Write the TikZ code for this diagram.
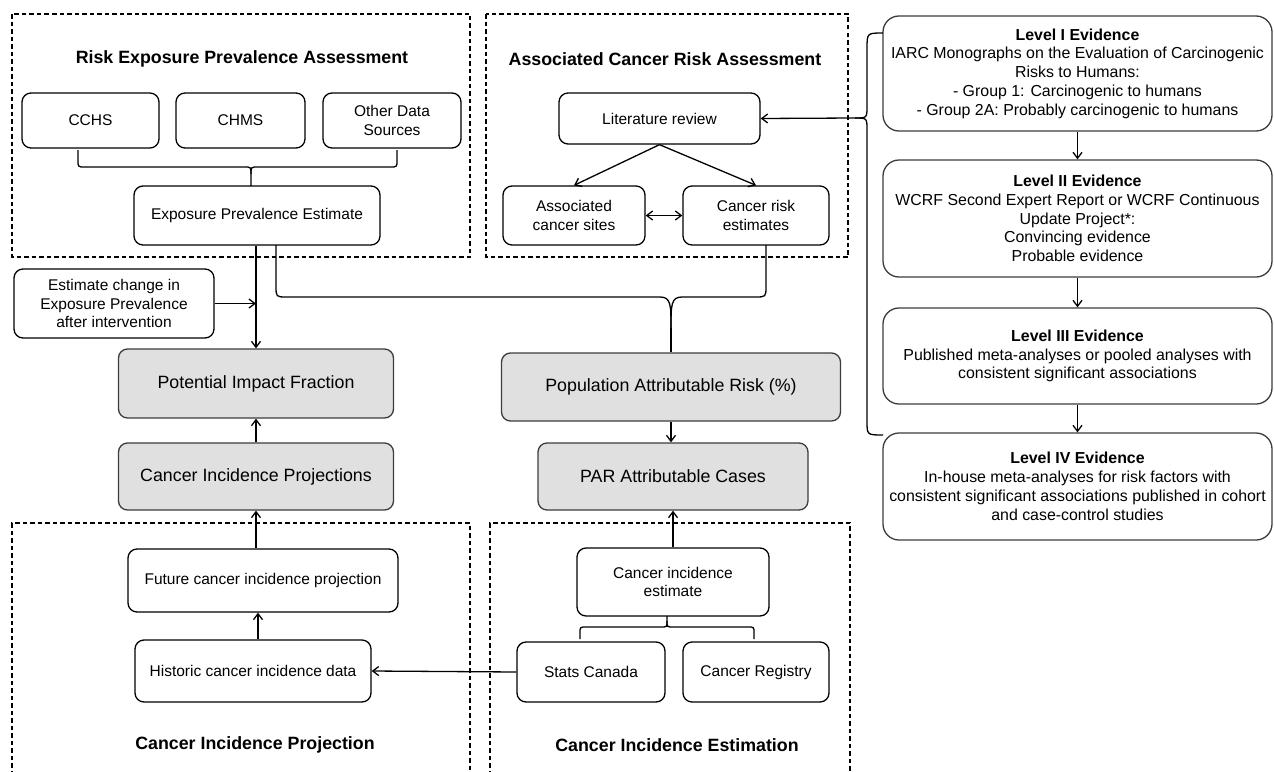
\documentclass[tikz,border=0pt]{standalone}
\usepackage{fontspec}
\setmainfont{Liberation Sans}
\usetikzlibrary{arrows.meta,calc}
\definecolor{boxgray}{RGB}{224,224,224}
\definecolor{linegray}{RGB}{60,60,60}
\tikzset{
  wbox/.style={draw=black, line width=1.3pt, rounded corners=9pt, fill=white, align=center, inner sep=2pt,
    font=\fontsize{15.5}{18.5}\selectfont},
  gbox/.style={wbox, fill=boxgray, draw=linegray, font=\fontsize{17.8}{21}\selectfont},
  lbox/.style={wbox, draw=linegray, rounded corners=16pt, font=\fontsize{15.9}{18.8}\selectfont},
  dbox/.style={draw=black, line width=1.3pt, dash pattern=on 4.5pt off 3pt},
  ttl/.style={font=\bfseries\fontsize{17.8}{21}\selectfont},
  conn/.style={line width=1.3pt},
  arr/.style={conn, -{Straight Barb[length=6pt,width=9pt]}},
  darr/.style={conn, {Straight Barb[length=6pt,width=9pt]}-{Straight Barb[length=6pt,width=9pt]}},
}
\begin{document}
\begin{tikzpicture}[x=1pt,y=-1pt]
\useasboundingbox (0,0) rectangle (1274,771);

% dashed panels
\draw[dbox] (12,14) rectangle (470,257);
\draw[dbox] (486,14) rectangle (848,257);
\draw[dbox] (12,775) -- (12,523) -- (470,523) -- (470,775);
\draw[dbox] (490,775) -- (490,523) -- (850,523) -- (850,775);

\node[ttl] (t1) at (242,59) {Risk Exposure Prevalence Assessment};
\node[ttl] (t2) at (665,59) {Associated Cancer Risk Assessment};
\node[ttl] (t3) at (255,745) {Cancer Incidence Projection};
\node[ttl] (t4) at (677,745) {Cancer Incidence Estimation};

% top-left panel
\node[wbox, minimum width=137, minimum height=55] (cchs) at (90.5,120.5) {CCHS};
\node[wbox, minimum width=129, minimum height=55] (chms) at (240.5,120.5) {CHMS};
\node[wbox, minimum width=138, minimum height=55] (other) at (392,120.5) {Other Data\\Sources};
\node[wbox, minimum width=246, minimum height=59] (epe) at (257,215.5) {Exposure Prevalence Estimate};

\draw[conn] (78,150) -- (78,160) .. controls (78,167) .. (85,167) -- (244,167)
  .. controls (251,167) .. (251,174) -- (251,186);
\draw[conn] (251,174) .. controls (251,167) .. (258,167) -- (390,167)
  .. controls (397,167) .. (397,160) -- (397,150);

% top-middle panel
\node[wbox, minimum width=201, minimum height=51] (lit) at (659.5,118.5) {Literature review};
\node[wbox, minimum width=142, minimum height=59] (assoc) at (574,215.5) {Associated\\cancer sites};
\node[wbox, minimum width=146, minimum height=59] (risk) at (756,215.5) {Cancer risk\\estimates};
\draw[arr] (lit.south) -- (assoc.north);
\draw[arr] (lit.south) -- (risk.north);
\draw[darr] (assoc.east) -- (risk.west);

% evidence levels
\node[lbox, minimum width=389, minimum height=115] (l1) at (1077.5,73.5)
  {\textbf{Level I Evidence}\\IARC Monographs on the Evaluation of Carcinogenic\\Risks to Humans:\\- Group 1: Carcinogenic to humans\\- Group 2A: Probably carcinogenic to humans};
\node[lbox, minimum width=389, minimum height=117] (l2) at (1077.5,218.5)
  {\textbf{Level II Evidence}\\WCRF Second Expert Report or WCRF Continuous\\Update Project*:\\Convincing evidence\\Probable evidence};
\node[lbox, minimum width=389, minimum height=96] (l3) at (1077.5,356)
  {\textbf{Level III Evidence}\\Published meta-analyses or pooled analyses with\\consistent significant associations};
\node[lbox, minimum width=389, minimum height=107] (l4) at (1077.5,486.5)
  {\textbf{Level IV Evidence}\\In-house meta-analyses for risk factors with\\consistent significant associations published in cohort\\and case-control studies};
\draw[arr] (l1.south) -- (l2.north);
\draw[arr] (l2.south) -- (l3.north);
\draw[arr] (l3.south) -- (l4.north);

% right brace
\coordinate (rb) at (855,118);
\draw[conn] (883,33) .. controls (867,33) .. (867,49) -- (867,106) .. controls (867,118) .. (rb);
\draw[conn] (rb) .. controls (867,118) .. (867,130) -- (867,421) .. controls (867,435) .. (883,435);
\draw[arr] (rb) -- (lit.east);

% middle
\node[wbox, minimum width=200, minimum height=69] (ech) at (114,303.5) {Estimate change in\\Exposure Prevalence\\after intervention};
\node[gbox, minimum width=275, minimum height=69] (pif) at (256,383.5) {Potential Impact Fraction};
\node[gbox, minimum width=275, minimum height=67] (cip) at (256,476.5) {Cancer Incidence Projections};
\node[gbox, minimum width=339, minimum height=68] (par) at (671,387) {Population Attributable Risk (\%)};
\node[gbox, minimum width=270, minimum height=67] (pac) at (673,476.5) {PAR Attributable Cases};

\draw[arr] (epe.south -| pif.north) -- (pif.north);
\coordinate (j1) at (pif.north |- ech.east);
\draw[arr] (ech.east) -- (j1);
\draw[arr] (cip.north) -- (pif.south);
\draw[arr] (par.south) -- (par.south |- pac.north);

% big brace
\coordinate (bt) at (671,328);
\draw[conn] (276,245) -- (276,286) .. controls (276,297) .. (287,297) -- (660,297)
  .. controls (671,297) and (671,305) .. (bt);
\draw[conn] (bt) .. controls (671,305) and (671,297) .. (682,297) -- (755,297)
  .. controls (766,297) .. (766,286) -- (766,245);
\draw[conn] (bt) -- (par.north);

% bottom panels
\node[wbox, minimum width=270, minimum height=63] (fut) at (263,580.5) {Future cancer incidence projection};
\node[wbox, minimum width=236, minimum height=62] (hist) at (253,671) {Historic cancer incidence data};
\node[wbox, minimum width=192, minimum height=68] (cie) at (673,582) {Cancer incidence\\estimate};
\node[wbox, minimum width=148, minimum height=60] (stats) at (591,672) {Stats Canada};
\node[wbox, minimum width=146, minimum height=60] (reg) at (756,672) {Cancer Registry};

\coordinate (ha) at ($(hist.north)+(5,0)$);
\coordinate (hb) at (ha |- fut.south);
\draw[arr] (ha) -- (hb);
\draw[arr] (fut.north -| cip.south) -- (cip.south);
\draw[arr] (cie.north) -- (cie.north |- pac.south);
\draw[arr] (stats.west) -- (hist.east);

\draw[conn] (580,639) -- (580,633) .. controls (580,627) .. (586,627) -- (661,627)
  .. controls (667,627) .. (667,621) -- (667,616);
\draw[conn] (667,621) .. controls (667,627) .. (673,627) -- (748,627)
  .. controls (754,627) .. (754,633) -- (754,639);
\end{tikzpicture}
\end{document}
